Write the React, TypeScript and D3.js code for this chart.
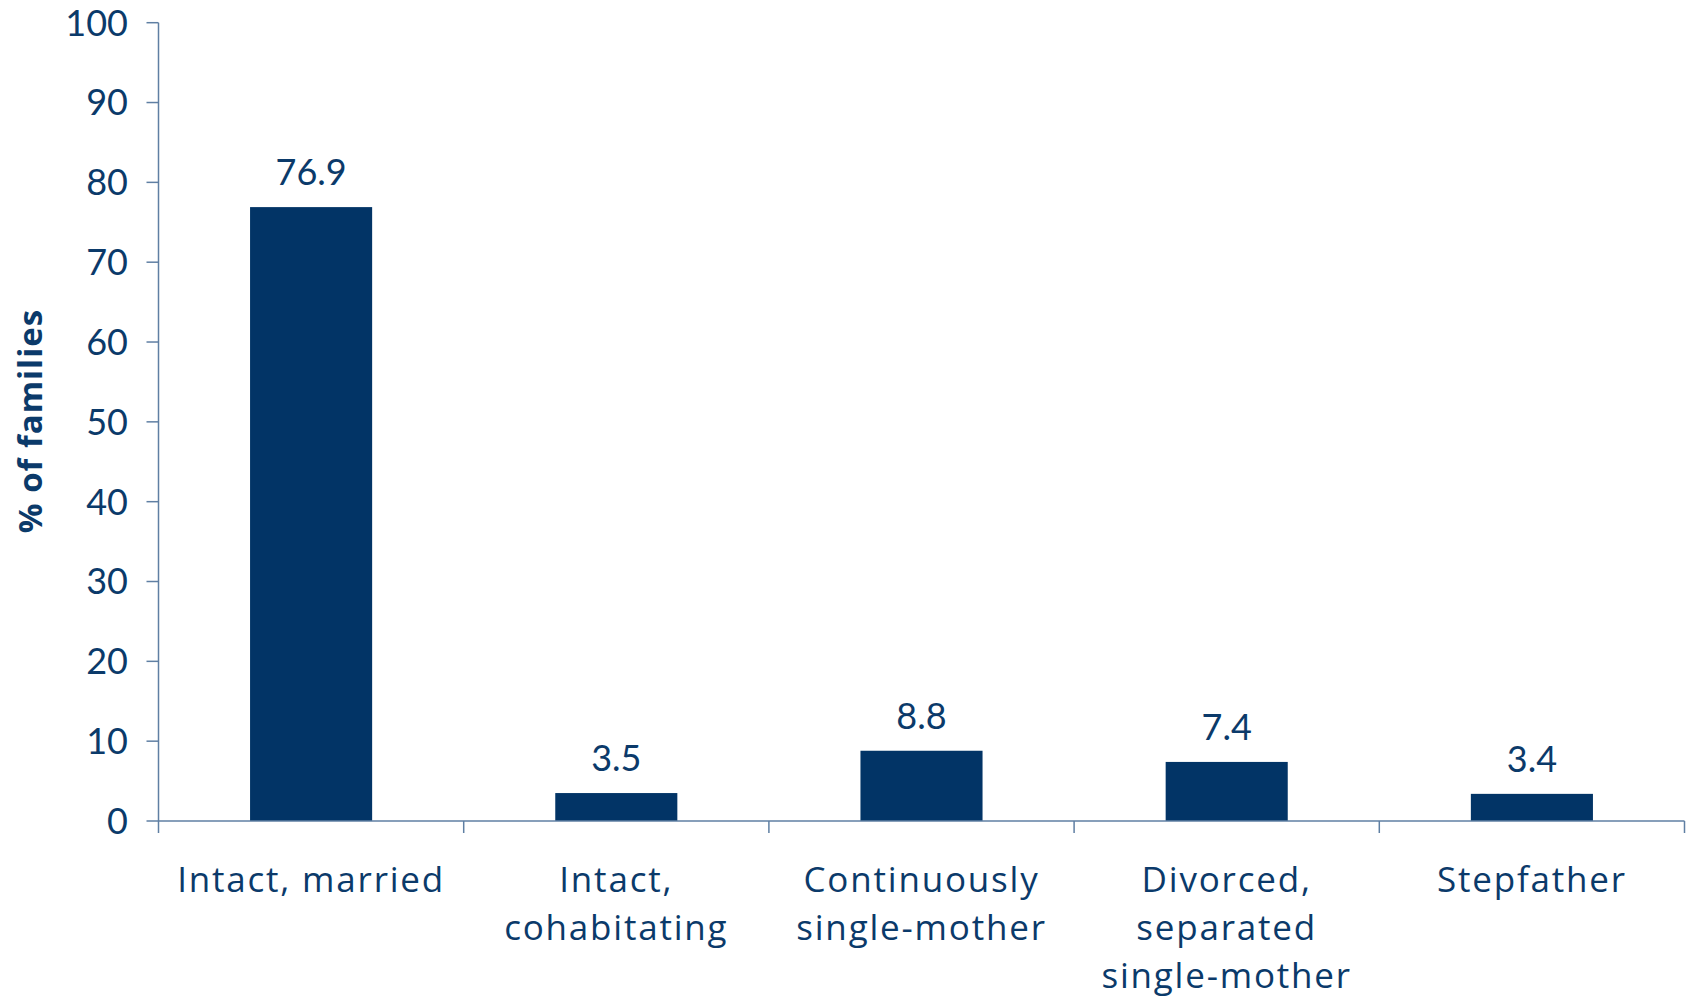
import React from "react";
import * as d3 from "d3";

const categories: string[][] = [
  ["Intact, married"],
  ["Intact,", "cohabitating"],
  ["Continuously", "single-mother"],
  ["Divorced,", "separated", "single-mother"],
  ["Stepfather"],
];
const values: number[] = [76.9, 3.5, 8.8, 7.4, 3.4];
const valueLabels: string[] = ["76.9", "3.5", "8.8", "7.4", "3.4"];
const yTicks: number[] = [0, 10, 20, 30, 40, 50, 60, 70, 80, 90, 100];
const yTitle = "% of families";

const W = 1696;
const H = 998;
const M = { left: 158.5, right: 1684.5, top: 22.7, bottom: 821 };
const BAR = "#023466";
const TEXT = "#0b3a6a";
const AXIS = "#5f7fa3";
const FONT = "Lato, 'Open Sans', sans-serif";
const FONT2 = "'Open Sans', Lato, sans-serif";

export default function App() {
  const idx = categories.map((_, i) => String(i));
  const x = d3.scaleBand<string>().domain(idx).range([M.left, M.right]).paddingInner(0.6).paddingOuter(0.3);
  const band = d3.scaleBand<string>().domain(idx).range([M.left, M.right]);
  const y = d3.scaleLinear().domain([0, 100]).range([M.bottom, M.top]);

  return (
    <svg width={W} height={H} style={{ position: "absolute", left: 0, top: 0, background: "#fff" }}>
      {/* bars */}
      {values.map((v, i) => (
        <rect key={"b" + i} x={x(String(i))!} y={y(v)} width={x.bandwidth()} height={y(0) - y(v)} fill={BAR} />
      ))}
      {/* value labels */}
      {values.map((v, i) => (
        <text key={"v" + i} x={x(String(i))! + x.bandwidth() / 2} y={y(v) - 22} textAnchor="middle"
          fontFamily={FONT} fontSize={36} fill={TEXT}>{valueLabels[i]}</text>
      ))}
      {/* y axis */}
      <line x1={M.left} x2={M.left} y1={y(100)} y2={y(0)} stroke={AXIS} strokeWidth={1.5} />
      {yTicks.map((t) => (
        <g key={"t" + t}>
          <line x1={M.left - 12} x2={M.left} y1={y(t)} y2={y(t)} stroke={AXIS} strokeWidth={1.5} />
          <text x={128} y={y(t)} dy="0.36em" textAnchor="end" fontFamily={FONT} fontSize={36} fill={TEXT}>{t}</text>
        </g>
      ))}
      {/* x axis */}
      <line x1={M.left} x2={M.right} y1={y(0)} y2={y(0)} stroke={AXIS} strokeWidth={1.5} />
      {[...idx.map((d) => band(d)!), M.right].map((px, i) => (
        <line key={"xt" + i} x1={px} x2={px} y1={y(0)} y2={y(0) + 12} stroke={AXIS} strokeWidth={1.5} />
      ))}
      {categories.map((lines, i) => (
        <text key={"c" + i} x={band(String(i))! + band.bandwidth() / 2} y={892} textAnchor="middle"
          fontFamily={FONT2} fontSize={35} letterSpacing={1.8} fill={TEXT}>
          {lines.map((l, j) => (
            <tspan key={j} x={band(String(i))! + band.bandwidth() / 2} y={892 + j * 48}>{l}</tspan>
          ))}
        </text>
      ))}
      {/* y title */}
      <text transform={`translate(42, 421) rotate(-90)`} textAnchor="middle" fontFamily={FONT2}
        fontWeight="bold" fontSize={33} letterSpacing={1} fill={TEXT}>{yTitle}</text>
    </svg>
  );
}
